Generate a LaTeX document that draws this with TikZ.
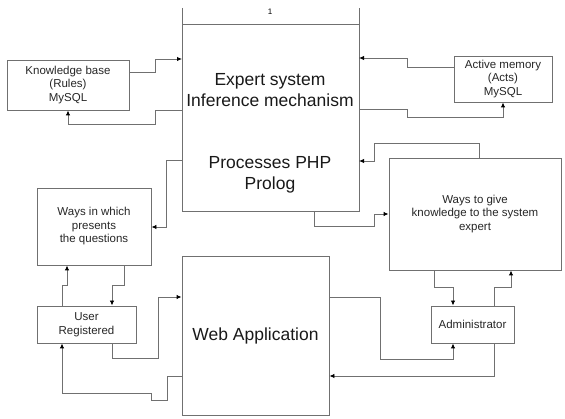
\documentclass[tikz,border=0pt]{standalone}
\usepackage{fontspec}
\setmainfont{Liberation Sans}
\usetikzlibrary{arrows.meta}
\definecolor{edge}{HTML}{707070}
\begin{document}
\begin{tikzpicture}[x=1pt,y=-1pt,
  box/.style={draw=edge,line width=0.9pt},
  wire/.style={draw=edge,line width=0.9pt,-{Latex[length=5pt,width=4.5pt,color=black]}},
  small/.style={font=\fontsize{11.5}{13.5}\selectfont,align=center,text=black!85},
  big/.style={font=\fontsize{17.5}{21}\selectfont,align=center,text=black!90}]
\useasboundingbox (0,0) rectangle (565,419);

% main expert block with its header row
\draw[box] (182,8) -- (182,211) -- (359,211) -- (359,8);
\draw[box] (182,24) -- (359,24);
\node[font=\fontsize{8}{9}\selectfont] (hdr) at (270,12) {1};
\coordinate (ex) at (182,24);
\node[big] (exp) at (270,90) {Expert system\\Inference mechanism};
\node[big] (proc) at (270,175) {Processes PHP\\Prolog};
\path (182,24) coordinate (exNW) (359,211) coordinate (exSE);

% side boxes
\node[box,small,minimum width=122,minimum height=50] (kb) at (68,85) {Knowledge base\\(Rules)\\MySQL};
\node[box,small,minimum width=98,minimum height=46] (am) at (503,79) {Active memory\\(Acts)\\MySQL};
\node[box,small,minimum width=114,minimum height=77] (wq) at (94,226.5) {Ways in which\\presents\\the questions};
\node[box,small,minimum width=99,minimum height=37] (usr) at (86.5,324.5) {User\\Registered};
\node[box,small,minimum width=172,minimum height=112] (wg) at (475,214) {Ways to give\\knowledge to the system\\expert};
\node[box,small,minimum width=83,minimum height=37] (adm) at (472.5,324.5) {Administrator};
\node[box,big,minimum width=147,minimum height=159] (web) at (255.5,335.5) {Web Application};

% connectors around the expert block
\draw[wire] (kb.east |- 0,72) -| (155,59) -- (182,59);
\draw[wire] (182,110) -- (155,110) |- (68,124) -- (kb.south -| 68,0);
\draw[wire] (am.west |- 0,67) -| (407,58) -- (359,58);
\draw[wire] (359,109) -| (407,117) -| (am.south -| 503,0);
\draw[wire] (182,160) -| (166,227) -- (wq.east |- 0,227);
\draw[wire] (wg.north -| 479,0) |- (374,143) |- (359,161);
\draw[wire] (314,211) |- (374,226) |- (wg.west |- 0,214);

% user side
\draw[wire] (wq.south -| 124,0) |- (112,285) -- (usr.north -| 112,0);
\draw[wire] (usr.north -| 62,0) |- (67,285) -- (wq.south -| 67,0);
\draw[wire] (usr.south -| 112,0) |- (158,358) |- (web.west |- 0,297);
\draw[wire] (web.west |- 0,376) -| (167,400) -| (151,393) -| (usr.south -| 62,0);

% administrator side
\draw[wire] (web.east |- 0,297) -| (380,359) -| (adm.south -| 453,0);
\draw[wire] (adm.south -| 494,0) |- (web.east |- 0,376);
\draw[wire] (wg.south -| 434,0) |- (453,287) -- (adm.north -| 453,0);
\draw[wire] (adm.north -| 494,0) |- (511,287) -- (wg.south -| 511,0);
\end{tikzpicture}
\end{document}
